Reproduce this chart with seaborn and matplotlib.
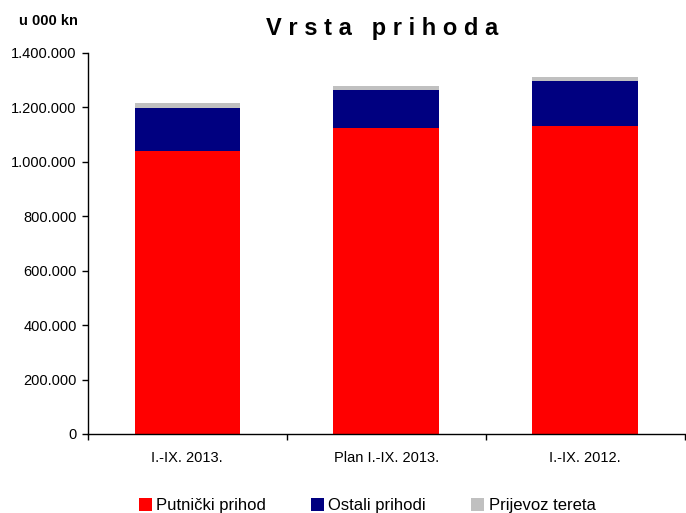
import matplotlib
matplotlib.use('Agg')
import matplotlib.pyplot as plt
import seaborn as sns
import pandas as pd
from matplotlib.patches import Patch
from matplotlib.ticker import FuncFormatter, FixedLocator

# ----------------------------
# Data (u 000 kn)
# ----------------------------
periods = ['I.-IX. 2013.', 'Plan I.-IX. 2013.', 'I.-IX. 2012.']
putnicki = [1041000, 1123000, 1131000]
ostali = [158000, 140000, 164000]
teret = [15000, 16000, 17000]

series_names = ['Putnički prihod', 'Ostali prihodi', 'Prijevoz tereta']
series_colors = ['#FF0000', '#000080', '#C0C0C0']

df = pd.DataFrame({'period': periods, 'putnicki': putnicki,
                   'ostali': ostali, 'teret': teret})
df['lvl1'] = df['putnicki']
df['lvl2'] = df['lvl1'] + df['ostali']
df['lvl3'] = df['lvl2'] + df['teret']

sns.set_style('white')
plt.rcParams['font.family'] = ['Liberation Sans', 'DejaVu Sans']
plt.rcParams['text.color'] = 'black'
plt.rcParams['xtick.color'] = 'black'
plt.rcParams['ytick.color'] = 'black'

fig = plt.figure(figsize=(6.86, 5.13), dpi=100)
ax = fig.add_axes([0.128, 0.154, 0.870, 0.743])

# stacked bars: draw totals first, then cover with lower levels
for col, color in zip(['lvl3', 'lvl2', 'lvl1'], series_colors[::-1]):
    sns.barplot(data=df, x='period', y=col, color=color, width=0.53,
                saturation=1, ax=ax, edgecolor='none')

ax.set_xlim(-0.5, 2.5)
ax.set_ylim(0, 1400000)
ax.set_yticks(range(0, 1400001, 200000))
ax.yaxis.set_major_formatter(FuncFormatter(lambda v, p: f'{int(v):,}'.replace(',', '.')))
ax.xaxis.set_minor_locator(FixedLocator([-0.5, 0.5, 1.5, 2.5]))
ax.tick_params(axis='x', which='major', length=0, labelsize=10.5, pad=12)
ax.tick_params(axis='x', which='minor', length=4, width=1, color='black', direction='out', bottom=True)
ax.tick_params(axis='y', length=4, width=1, color='black', direction='out', left=True, labelsize=10.5, pad=4)
ax.set_xlabel('')
ax.set_ylabel('')

for side in ['top', 'right']:
    ax.spines[side].set_visible(False)
for side in ['left', 'bottom']:
    ax.spines[side].set_color('black')
    ax.spines[side].set_linewidth(1)

fig.text(0.557, 0.944, 'V r s t a   p r i h o d a', ha='center', va='center',
         fontsize=17, fontweight='bold')
fig.text(0.070, 0.960, 'u 000 kn', ha='center', va='center',
         fontsize=10.5, fontweight='bold')

handles = [Patch(facecolor=c, edgecolor='none') for c in series_colors]
fig.legend(handles, series_names, loc='lower center', ncol=3,
           bbox_to_anchor=(0.535, -0.03), frameon=False, fontsize=12,
           handlelength=0.8, handleheight=0.8, handletextpad=0.25,
           columnspacing=2.7)

fig.savefig('out.png', dpi=100)
